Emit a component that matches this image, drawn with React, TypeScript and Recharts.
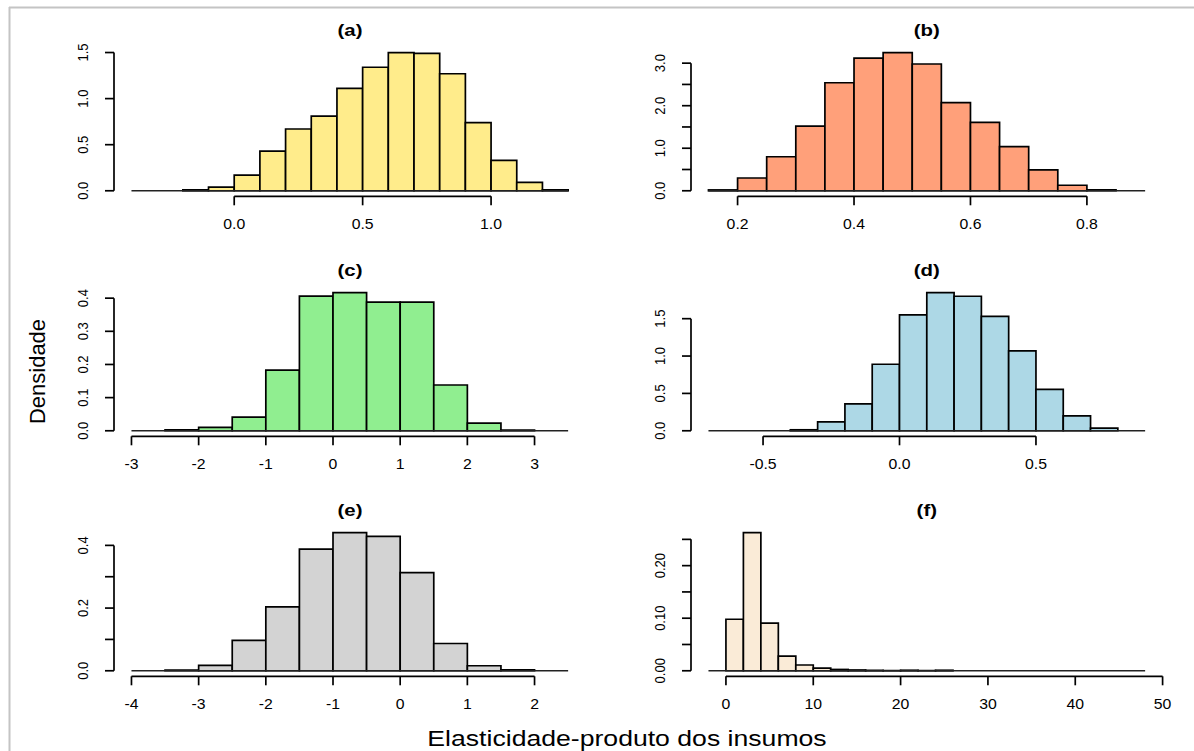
import React from "react";
import { ComposedChart, XAxis, YAxis, ReferenceArea, ReferenceLine, Line } from "recharts";

const FONT = '"Liberation Sans", Arial, Helvetica, sans-serif';

// (a) bin edges and densities
const edgesA = [-0.4, -0.3, -0.2, -0.1, 0, 0.1, 0.2, 0.3, 0.4, 0.5, 0.6, 0.7, 0.8, 0.9, 1.0, 1.1, 1.2, 1.3];
const densA = [0, 0, 0.01, 0.04, 0.17, 0.43, 0.67, 0.81, 1.11, 1.34, 1.5, 1.49, 1.27, 0.74, 0.33, 0.09, 0.01];
const xTicksA = [0, 0.5, 1.0];
const xLabelsA = ["0.0", "0.5", "1.0"];
const yTicksA = [0, 0.5, 1.0, 1.5];
const yLabelsA = ["0.0", "0.5", "1.0", "1.5"];

// (b)
const edgesB = [0.15, 0.2, 0.25, 0.3, 0.35, 0.4, 0.45, 0.5, 0.55, 0.6, 0.65, 0.7, 0.75, 0.8, 0.85, 0.9];
const densB = [0.02, 0.3, 0.8, 1.52, 2.54, 3.12, 3.25, 2.98, 2.07, 1.61, 1.04, 0.49, 0.13, 0.02, 0];
const xTicksB = [0.2, 0.4, 0.6, 0.8];
const xLabelsB = ["0.2", "0.4", "0.6", "0.8"];
const yTicksB = [0, 0.5, 1.0, 1.5, 2.0, 2.5, 3.0];
const yLabelsB = ["0.0", "", "1.0", "", "2.0", "", "3.0"];

// (c)
const edgesC = [-3, -2.5, -2, -1.5, -1, -0.5, 0, 0.5, 1, 1.5, 2, 2.5, 3, 3.5];
const densC = [0, 0.003, 0.01, 0.041, 0.183, 0.406, 0.417, 0.388, 0.388, 0.138, 0.023, 0.002, 0];
const xTicksC = [-3, -2, -1, 0, 1, 2, 3];
const xLabelsC = ["-3", "-2", "-1", "0", "1", "2", "3"];
const yTicksC = [0, 0.1, 0.2, 0.3, 0.4];
const yLabelsC = ["0.0", "0.1", "0.2", "0.3", "0.4"];

// (d)
const edgesD = [-0.7, -0.6, -0.5, -0.4, -0.3, -0.2, -0.1, 0, 0.1, 0.2, 0.3, 0.4, 0.5, 0.6, 0.7, 0.8, 0.9];
const densD = [0, 0, 0, 0.013, 0.12, 0.36, 0.89, 1.55, 1.85, 1.8, 1.53, 1.07, 0.555, 0.2, 0.036, 0];
const xTicksD = [-0.5, 0, 0.5];
const xLabelsD = ["-0.5", "0.0", "0.5"];
const yTicksD = [0, 0.5, 1.0, 1.5];
const yLabelsD = ["0.0", "0.5", "1.0", "1.5"];

// (e)
const edgesE = [-4, -3.5, -3, -2.5, -2, -1.5, -1, -0.5, 0, 0.5, 1, 1.5, 2, 2.5];
const densE = [0, 0.002, 0.017, 0.097, 0.204, 0.388, 0.441, 0.429, 0.313, 0.087, 0.016, 0.003, 0];
const xTicksE = [-4, -3, -2, -1, 0, 1, 2];
const xLabelsE = ["-4", "-3", "-2", "-1", "0", "1", "2"];
const yTicksE = [0, 0.1, 0.2, 0.3, 0.4];
const yLabelsE = ["0.0", "", "0.2", "", "0.4"];

// (f)
const edgesF = [-2, 0, 2, 4, 6, 8, 10, 12, 14, 16, 18, 20, 22, 24, 26, 28, 30, 32, 34, 36, 38, 40, 42, 44, 46, 48];
const densF = [0, 0.098, 0.263, 0.0905, 0.028, 0.011, 0.005, 0.0025, 0.0015, 0.0008, 0.0003, 0.001, 0.0003, 0.001, 0, 0, 0, 0, 0, 0, 0, 0, 0, 0, 0];
const xTicksF = [0, 10, 20, 30, 40, 50];
const xLabelsF = ["0", "10", "20", "30", "40", "50"];
const yTicksF = [0, 0.05, 0.1, 0.15, 0.2, 0.25];
const yLabelsF = ["0.00", "", "0.10", "", "0.20", ""];

type Panel = {
  title: string;
  edges: number[];
  dens: number[];
  fill: string;
  xTicks: number[];
  xLabels: string[];
  yTicks: number[];
  yLabels: string[];
  col: number;
  row: number;
};

const panels: Panel[] = [
  { title: "(a)", edges: edgesA, dens: densA, fill: "#FFEC8B", xTicks: xTicksA, xLabels: xLabelsA, yTicks: yTicksA, yLabels: yLabelsA, col: 0, row: 0 },
  { title: "(b)", edges: edgesB, dens: densB, fill: "#FFA07A", xTicks: xTicksB, xLabels: xLabelsB, yTicks: yTicksB, yLabels: yLabelsB, col: 1, row: 0 },
  { title: "(c)", edges: edgesC, dens: densC, fill: "#90EE90", xTicks: xTicksC, xLabels: xLabelsC, yTicks: yTicksC, yLabels: yLabelsC, col: 0, row: 1 },
  { title: "(d)", edges: edgesD, dens: densD, fill: "#ADD8E6", xTicks: xTicksD, xLabels: xLabelsD, yTicks: yTicksD, yLabels: yLabelsD, col: 1, row: 1 },
  { title: "(e)", edges: edgesE, dens: densE, fill: "#D3D3D3", xTicks: xTicksE, xLabels: xLabelsE, yTicks: yTicksE, yLabels: yLabelsE, col: 0, row: 2 },
  { title: "(f)", edges: edgesF, dens: densF, fill: "#FAEBD7", xTicks: xTicksF, xLabels: xLabelsF, yTicks: yTicksF, yLabels: yLabelsF, col: 1, row: 2 },
];

// layout of the plot regions (like par(mfrow = c(3, 2)))
const COL_LEFT = [114.2, 691.0];
const ROW_TOP = [47, 287, 527];
const PLOT_W = 471.6;
const PLOT_H = 149.3;
const Y_W = 60;
const X_H = 45;
const M_R = 25;
const M_T = 16;
const LW = 1.7;

function Hist({ p }: { p: Panel }) {
  const lo = p.edges[0];
  const hi = p.edges[p.edges.length - 1];
  const span = hi - lo;
  const xDom = [lo - 0.04 * span, hi + 0.04 * span];
  const m = Math.max(...p.dens);
  const yDom = [-0.04 * m, 1.04 * m];
  const bins = p.dens.map((d, i) => ({
    x0: p.edges[i],
    x1: p.edges[i + 1],
    mid: (p.edges[i] + p.edges[i + 1]) / 2,
    d,
  }));

  const xTick = (props: any) => {
    const i = p.xTicks.indexOf(props.payload.value);
    return (
      <text
        transform={`translate(${props.x},${props.y + 24}) scale(1.13,1)`}
        textAnchor="middle"
        fontSize={14}
        fontFamily={FONT}
        fill="#000"
      >
        {p.xLabels[i]}
      </text>
    );
  };
  const yTick = (props: any) => {
    const i = p.yTicks.indexOf(props.payload.value);
    const lab = p.yLabels[i];
    if (!lab) return <g />;
    return (
      <text
        transform={`translate(${props.x - 17},${props.y}) rotate(-90) scale(1,1.1)`}
        textAnchor="middle"
        fontSize={13}
        fontFamily={FONT}
        fill="#000"
      >
        {lab}
      </text>
    );
  };

  return (
    <div style={{ position: "absolute", left: COL_LEFT[p.col] - Y_W, top: ROW_TOP[p.row] - M_T }}>
      <ComposedChart
        width={Y_W + PLOT_W + M_R}
        height={M_T + PLOT_H + X_H}
        data={bins}
        margin={{ top: M_T, right: M_R, bottom: 0, left: 0 }}
      >
        <XAxis
          type="number"
          dataKey="mid"
          domain={xDom}
          ticks={p.xTicks}
          allowDataOverflow
          interval={0}
          height={X_H}
          axisLine={false}
          tickLine={{ stroke: "#000", strokeWidth: LW }}
          tickSize={9}
          tickMargin={0}
          tick={xTick}
        />
        <YAxis
          type="number"
          domain={yDom}
          ticks={p.yTicks}
          allowDataOverflow
          interval={0}
          width={Y_W}
          axisLine={false}
          tickLine={{ stroke: "#000", strokeWidth: LW }}
          tickSize={9}
          tickMargin={0}
          tick={yTick}
        />
        <ReferenceLine
          segment={[{ x: lo, y: 0 }, { x: hi, y: 0 }]}
          stroke="#222"
          strokeWidth={LW}
          ifOverflow="visible"
        />
        {bins.map((b, i) => (
          <ReferenceArea
            key={i}
            x1={b.x0}
            x2={b.x1}
            y1={0}
            y2={b.d}
            fill={p.fill}
            fillOpacity={1}
            stroke="#000"
            strokeWidth={LW}
            ifOverflow="visible"
          />
        ))}
        <ReferenceLine
          segment={[{ x: xDom[0], y: 0 }, { x: xDom[0], y: p.yTicks[p.yTicks.length - 1] }]}
          stroke="#000"
          strokeWidth={LW}
          ifOverflow="visible"
        />
        <ReferenceLine
          segment={[{ x: p.xTicks[0], y: yDom[0] }, { x: p.xTicks[p.xTicks.length - 1], y: yDom[0] }]}
          stroke="#000"
          strokeWidth={LW}
          ifOverflow="visible"
        />
        <Line dataKey="d" stroke="none" dot={false} activeDot={false} isAnimationActive={false} />
      </ComposedChart>
    </div>
  );
}

export default function App() {
  return (
    <div style={{ position: "absolute", left: 0, top: 0, width: 1194, height: 751, background: "#fff", overflow: "hidden" }}>
      {panels.map((p) => (
        <Hist key={p.title} p={p} />
      ))}
      <svg width={1194} height={751} style={{ position: "absolute", left: 0, top: 0, pointerEvents: "none" }}>
        <line x1={9.5} y1={7} x2={9.5} y2={751} stroke="#c4c4c4" strokeWidth={2} />
        <line x1={9} y1={7.5} x2={1194} y2={7.5} stroke="#c4c4c4" strokeWidth={2} />
        {panels.map((p) => (
          <text
            key={p.title}
            transform={`translate(${COL_LEFT[p.col] + PLOT_W / 2},${ROW_TOP[p.row] - 11}) scale(1.2,1)`}
            textAnchor="middle"
            fontSize={17}
            fontWeight="bold"
            fontFamily={FONT}
            fill="#000"
          >
            {p.title}
          </text>
        ))}
        <text
          transform="translate(45,371.5) rotate(-90)"
          textAnchor="middle"
          fontSize={22}
          fontFamily={FONT}
          fill="#000"
        >
          Densidade
        </text>
        <text
          transform="translate(627,745.5) scale(1.21,1)"
          textAnchor="middle"
          fontSize={22}
          fontFamily={FONT}
          fill="#000"
        >
          Elasticidade-produto dos insumos
        </text>
      </svg>
    </div>
  );
}
